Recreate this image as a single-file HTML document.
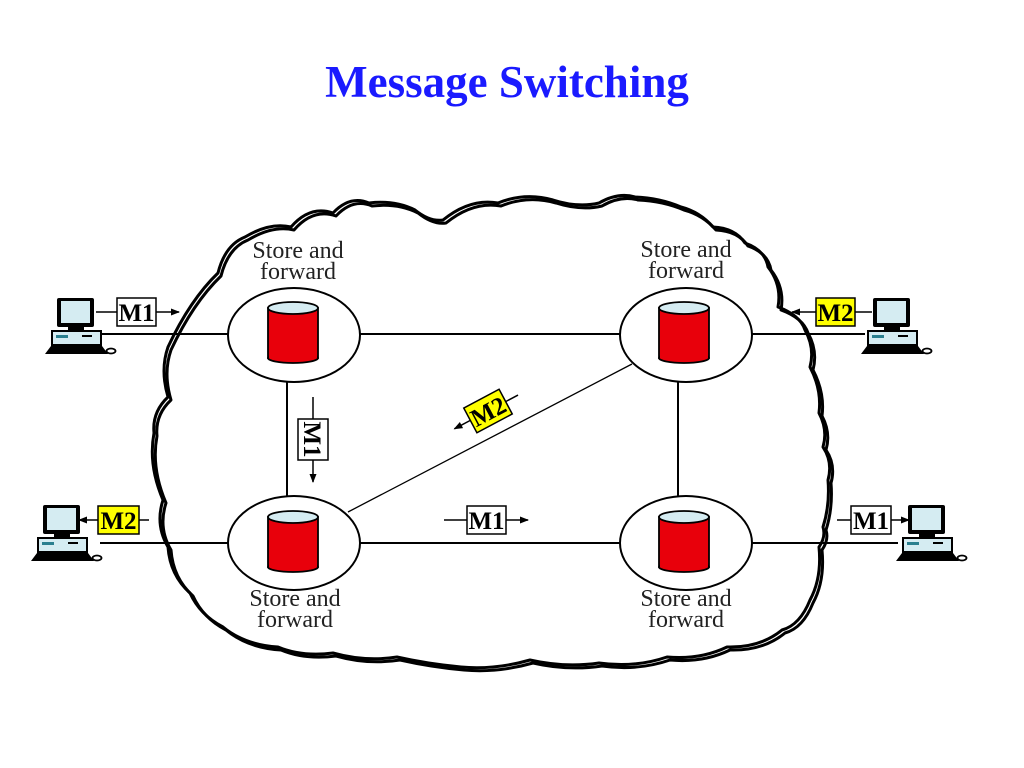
<!DOCTYPE html>
<html><head><meta charset="utf-8"><style>
html,body{margin:0;padding:0;background:#fff;width:1024px;height:768px;overflow:hidden}
svg text{font-family:"Liberation Serif",serif}
</style></head><body>
<svg width="1024" height="768" viewBox="0 0 1024 768" xmlns="http://www.w3.org/2000/svg">
<defs>
<marker id="ar" markerWidth="9" markerHeight="9" refX="8" refY="4.5" orient="auto" markerUnits="userSpaceOnUse"><path d="M0,1 L9,4.5 L0,8 Z" fill="#000"/></marker>
<g id="pc">
<rect x="15" y="0" width="37" height="29" rx="2" fill="#000"/>
<rect x="19" y="3" width="29" height="22" fill="#d5ecf2"/>
<rect x="26" y="29" width="16" height="4" fill="#000"/>
<rect x="9" y="32" width="51" height="16" fill="#000"/>
<rect x="11" y="34" width="47" height="12" fill="#d5ecf2"/>
<rect x="14" y="37" width="12" height="3" fill="#2a7f8f"/>
<rect x="40" y="37" width="10" height="2" fill="#000"/>
<path d="M9,48 L60,48 L66,56 L3,56 Z" fill="#000"/>
<ellipse cx="69" cy="53" rx="4.5" ry="2.5" fill="none" stroke="#000" stroke-width="1.8"/>
</g>
<g id="db">
<rect x="-25" y="-22" width="50" height="50" fill="#e8000b" stroke="#000" stroke-width="1.8"/>
<ellipse cx="0" cy="28" rx="25" ry="5" fill="#e8000b" stroke="#000" stroke-width="1.8"/>
<rect x="-24" y="21" width="48" height="7" fill="#e8000b"/>
<ellipse cx="0" cy="-22" rx="25" ry="6" fill="#d5ecf2" stroke="#000" stroke-width="1.8"/>
</g>
</defs>

<text x="507" y="97" text-anchor="middle" font-size="45" font-weight="bold" fill="#1a1aff">Message Switching</text>

<g fill="none" stroke-linejoin="round">
<path id="cl" d="M168,347 Q190,300 218,273 Q225,245 245,237 Q270,222 291,227 Q310,205 333,213 Q350,195 369,203 Q395,200 415,210 Q430,222 443,220 Q470,198 498,203 Q525,192 553,200 Q578,208 599,203 Q618,192 635,197 Q660,198 681,207 Q700,212 713,227 Q735,228 745,243 Q765,250 768,267 Q782,285 778,307 Q800,315 805,330 Q815,348 810,367 Q822,390 819,413 Q828,430 823,447 Q833,462 828,480 Q830,505 823,527 Q826,537 819,547 Q822,578 810,600 Q800,625 782,630 Q760,648 727,647 Q700,660 667,657 Q635,668 599,663 Q565,668 530,660 Q495,670 461,667 Q428,664 397,657 Q365,662 333,653 Q302,657 278,647 Q245,645 223,627 Q200,615 190,593 Q170,575 168,547 Q155,525 163,500 Q148,465 154,433 Q152,412 168,397 Q160,370 168,347 Z" stroke="#000" stroke-width="3"/>
<use href="#cl" transform="translate(3,3)" stroke="#000" stroke-width="2"/>
</g>

<g stroke="#000" stroke-width="2">
<line x1="100" y1="334" x2="228" y2="334"/>
<line x1="359" y1="334" x2="621" y2="334"/>
<line x1="751" y1="334" x2="865" y2="334"/>
<line x1="100" y1="543" x2="228" y2="543"/>
<line x1="359" y1="543" x2="621" y2="543"/>
<line x1="751" y1="543" x2="898" y2="543"/>
<line x1="287" y1="380" x2="287" y2="497"/>
<line x1="678" y1="380" x2="678" y2="497"/>
</g>
<line x1="348" y1="512" x2="632" y2="364" stroke="#000" stroke-width="1.3"/>

<g fill="#fff" stroke="#000" stroke-width="2">
<ellipse cx="294" cy="335" rx="66" ry="47"/>
<ellipse cx="686" cy="335" rx="66" ry="47"/>
<ellipse cx="294" cy="543" rx="66" ry="47"/>
<ellipse cx="686" cy="543" rx="66" ry="47"/>
</g>
<use href="#db" x="293" y="330"/>
<use href="#db" x="684" y="330"/>
<use href="#db" x="293" y="539"/>
<use href="#db" x="684" y="539"/>

<g font-size="24" text-anchor="middle" fill="#222">
<text x="298" y="258">Store and</text><text x="298" y="279">forward</text>
<text x="686" y="257">Store and</text><text x="686" y="278">forward</text>
<text x="295" y="606">Store and</text><text x="295" y="627">forward</text>
<text x="686" y="606">Store and</text><text x="686" y="627">forward</text>
</g>

<use href="#pc" x="42" y="298"/>
<use href="#pc" x="858" y="298"/>
<use href="#pc" x="28" y="505"/>
<use href="#pc" x="893" y="505"/>

<g stroke="#000" stroke-width="1.5" font-size="25" font-weight="bold">
<line x1="96" y1="312" x2="117" y2="312"/>
<rect x="117" y="298" width="39" height="28" fill="#fff"/>
<line x1="156" y1="312" x2="179" y2="312" marker-end="url(#ar)"/>
<text x="136.5" y="321" text-anchor="middle" stroke="none" fill="#000">M1</text>

<line x1="872" y1="312" x2="855" y2="312"/>
<rect x="816" y="298" width="39" height="28" fill="#ffff00"/>
<line x1="816" y1="312" x2="792" y2="312" marker-end="url(#ar)"/>
<text x="835.5" y="321" text-anchor="middle" stroke="none" fill="#000">M2</text>

<line x1="149" y1="520" x2="139" y2="520"/>
<rect x="98" y="506" width="41" height="28" fill="#ffff00"/>
<line x1="98" y1="520" x2="79" y2="520" marker-end="url(#ar)"/>
<text x="118.5" y="529" text-anchor="middle" stroke="none" fill="#000">M2</text>

<line x1="444" y1="520" x2="467" y2="520"/>
<rect x="467" y="506" width="39" height="28" fill="#fff"/>
<line x1="506" y1="520" x2="528" y2="520" marker-end="url(#ar)"/>
<text x="486.5" y="529" text-anchor="middle" stroke="none" fill="#000">M1</text>

<line x1="837" y1="520" x2="851" y2="520"/>
<rect x="851" y="506" width="40" height="28" fill="#fff"/>
<line x1="891" y1="520" x2="909" y2="520" marker-end="url(#ar)"/>
<text x="871" y="529" text-anchor="middle" stroke="none" fill="#000">M1</text>

<line x1="313" y1="397" x2="313" y2="419"/>
<rect x="298" y="419" width="30" height="41" fill="#fff"/>
<line x1="313" y1="460" x2="313" y2="482" marker-end="url(#ar)"/>
<text transform="translate(304,439.5) rotate(90)" text-anchor="middle" stroke="none" fill="#000">M1</text>

<g transform="translate(488,411) rotate(-28)">
<line x1="20" y1="0" x2="34" y2="0"/>
<rect x="-20" y="-14" width="40" height="28" fill="#ffff00"/>
<line x1="-20" y1="0" x2="-38" y2="0" marker-end="url(#ar)"/>
<text x="0" y="9" text-anchor="middle" stroke="none" fill="#000">M2</text>
</g>
</g>
</svg>
</body></html>
